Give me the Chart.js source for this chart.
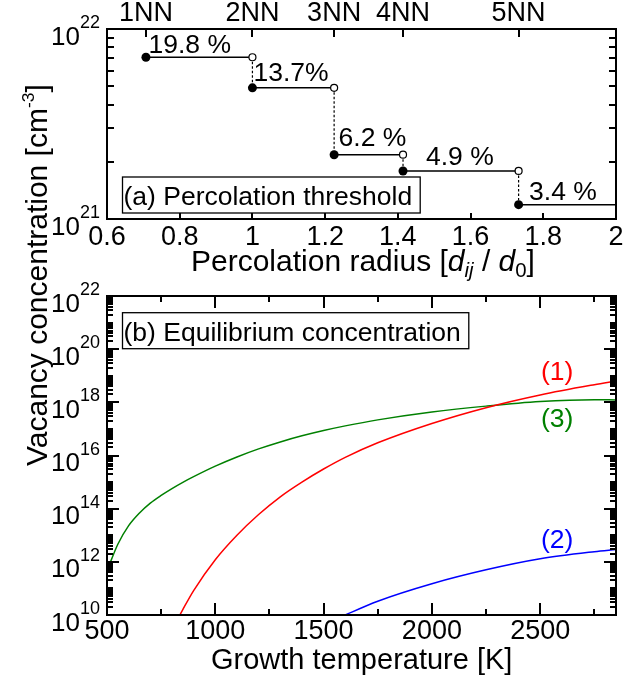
<!DOCTYPE html>
<html>
<head>
<meta charset="utf-8">
<title>Vacancy concentration</title>
<script src="https://cdn.jsdelivr.net/npm/chart.js@4.4.1/dist/chart.umd.min.js"></script>
<style>
  body { margin: 0; background: #fff; }
  #figure { position: relative; width: 637px; height: 681px; overflow: hidden;
            font-family: 'Liberation Sans', Arial, Helvetica, sans-serif; color: #000; }
  .panel { position: absolute; left: 0; }
  .title { position: absolute; font-size: 29px; line-height: 1; white-space: nowrap; }
  .sub { position: relative; top: 0.27em; font-size: 0.68em; }
  .sup { position: relative; top: -0.72em; font-size: 0.58em; }
  #yTitle { left: 21.6px; top: 466px; font-size: 30px; transform: rotate(-90deg); transform-origin: 0 0; }
  #xTitleA { left: 191px; top: 246.3px; font-size: 30px; }
  #xTitleB { left: 211px; top: 645px; }
</style>
</head>
<body>
<div id="figure">
  <canvas id="equilibrium" class="panel" width="637" height="411" style="top:270px"></canvas>
  <canvas id="percolation" class="panel" width="637" height="290" style="top:0"></canvas>
  <div class="title" id="yTitle">Vacancy concentration [cm<span class="sup">-3</span>]</div>
  <div class="title" id="xTitleA">Percolation radius [<i>d</i><span class="sub"><i>ij</i></span> / <i>d</i><span class="sub">0</span>]</div>
  <div class="title" id="xTitleB">Growth temperature [K]</div>
</div>
<script>
// (a) percolation threshold per neighbour shell
const nnLabels = ['1NN', '2NN', '3NN', '4NN', '5NN'];
const nnRadii = [0.7071, 1.0, 1.2247, 1.4142, 1.7321];
const thresholdConc = [7.1e21, 4.9e21, 2.18e21, 1.79e21, 1.19e21];
const thresholdPct = ['19.8 %', '13.7%', '6.2 %', '4.9 %', '3.4 %'];
const radiusTicks = [0.6, 0.8, 1, 1.2, 1.4, 1.6, 1.8, 2];
const radiusMin = 0.6;
const radiusMax = 2;
const concTicksA = [1e21, 1e22];

// (b) equilibrium concentration vs growth temperature
const temps = [500, 550, 600, 650, 700, 750, 800, 850, 900, 1000, 1100, 1200, 1300, 1400, 1500, 1600, 1750, 2000, 2250, 2500, 2750, 2850];
const conc1 = [null, null, null, null, null, null, 2.8e9, 1.6e10, 8.3e10, 1.2e12, 1.0e13, 6.0e13, 2.8e14, 1.0e15, 3.1e15, 8.5e15, 3.0e16, 1.6e17, 6.3e17, 1.9e18, 4.6e18, 6.3e18];
const conc2 = [null, null, null, null, null, null, null, null, null, null, null, null, null, null, 4.3e9, 1.0e10, 3.3e10, 1.5e11, 5.0e11, 1.3e12, 2.4e12, 2.9e12];
const conc3 = [4.6e11, 4.6e12, 2.3e13, 6.9e13, 1.62e14, 3.16e14, 5.7e14, 9.8e14, 1.6e15, 3.97e15, 8.8e15, 1.77e16, 3.24e16, 5.5e16, 8.7e16, 1.3e17, 2.19e17, 4.33e17, 7.2e17, 1.07e18, 1.26e18, 1.23e18];
const curveNames = ['(1)', '(2)', '(3)'];
const tempTicks = [500, 1000, 1500, 2000, 2500];
const tempMin = 500;
const tempMax = 2850;
const concTicksB = [1e10, 1e12, 1e14, 1e16, 1e18, 1e20, 1e22];

const FONT = "'Liberation Sans', Arial, Helvetica, sans-serif";

// box, inward ticks on all four sides, 10^n labels and the caption
function makeFrame(cfg) {
  return {
    id: 'frame',
    afterDraw(chart) {
      const { ctx, chartArea: a, scales } = chart;
      ctx.save();
      ctx.fillStyle = '#000';
      const hTick = (x, y, len) => ctx.fillRect(len > 0 ? x : x + len, Math.round(y) - 1, Math.abs(len), 2);
      const vTick = (x, y, len) => ctx.fillRect(Math.round(x) - 1, len > 0 ? y : y + len, 2, Math.abs(len));
      cfg.yTicks.forEach((t) => {
        const y = scales.y.getPixelForValue(t[0]);
        hTick(a.left, y, t[1]);
        hTick(a.right, y, -t[1]);
      });
      cfg.xTicks.forEach((t) => {
        const x = scales.x.getPixelForValue(t[0]);
        vTick(x, a.bottom, -t[1]);
        if (cfg.mirrorX) vTick(x, a.top, t[1]);
      });
      (cfg.topTicks || []).forEach((t) => {
        const x = scales.x2.getPixelForValue(t[0]);
        vTick(x, a.top, t[1]);
      });
      ctx.strokeStyle = '#000';
      ctx.lineWidth = 2;
      ctx.strokeRect(a.left, a.top, a.right - a.left, a.bottom - a.top);

      ctx.textAlign = 'right';
      ctx.textBaseline = 'alphabetic';
      cfg.yLabels.forEach((v) => {
        const y = scales.y.getPixelForValue(v);
        const exp = String(Math.round(Math.log10(v)));
        ctx.font = `18px ${FONT}`;
        ctx.fillText(exp, 100, y - 1);
        const w = ctx.measureText(exp).width;
        ctx.font = `26px ${FONT}`;
        ctx.fillText('10', 100 - w, y + 15.5);
      });

      ctx.font = `26.5px ${FONT}`;
      ctx.textAlign = 'left';
      const tw = ctx.measureText(cfg.caption).width;
      ctx.lineWidth = 1.3;
      ctx.strokeRect(a.left + 15.5, cfg.captionTop, tw + 9, 36);
      ctx.fillText(cfg.caption, a.left + 16.5, cfg.captionTop + 28);
      ctx.restore();
    }
  };
}

const hiddenGrid = { display: false, drawTicks: false };
const tickFont = { family: FONT, size: 27 };

// step outline: solid plateaus, dashed drops, open circle at each shell edge
const filledPts = nnRadii.map((r, i) => ({ x: r, y: thresholdConc[i] }));
const openPts = [];
const stepSolid = [];
const stepDashed = [];
nnRadii.forEach((r, i) => {
  const last = i === nnRadii.length - 1;
  const next = last ? radiusMax : nnRadii[i + 1];
  stepSolid.push({ x: r, y: thresholdConc[i] }, { x: next, y: thresholdConc[i] }, { x: next, y: null });
  if (!last) {
    openPts.push({ x: next, y: thresholdConc[i] });
    stepDashed.push({ x: next, y: thresholdConc[i] }, { x: next, y: thresholdConc[i + 1] }, { x: next, y: null });
  }
});

const pctOffsets = [[2.5, -4.6], [1, -6.6], [4.5, -8.3], [23, -5.5], [10.5, -5]];
const percentPlugin = {
  id: 'percent',
  afterDraw(chart) {
    const { ctx, scales } = chart;
    ctx.save();
    ctx.font = `26.5px ${FONT}`;
    ctx.fillStyle = '#000';
    ctx.textAlign = 'left';
    ctx.textBaseline = 'alphabetic';
    thresholdPct.forEach((txt, i) => {
      const [dx, dy] = pctOffsets[i];
      ctx.fillText(txt, scales.x.getPixelForValue(nnRadii[i]) + dx, scales.y.getPixelForValue(thresholdConc[i]) + dy);
    });
    ctx.restore();
  }
};

new Chart(document.getElementById('percolation'), {
  type: 'line',
  data: {
    datasets: [
      { data: filledPts, showLine: false, pointRadius: 4.5, pointBackgroundColor: '#000', pointBorderWidth: 0, order: 0 },
      { data: openPts, showLine: false, pointRadius: 3.5, pointBackgroundColor: '#fff', pointBorderColor: '#000', pointBorderWidth: 1.2, order: 1 },
      { data: stepSolid, borderColor: '#000', borderWidth: 1.5, pointRadius: 0, order: 2 },
      { data: stepDashed, borderColor: '#000', borderWidth: 1.2, borderDash: [2.5, 2], pointRadius: 0, order: 3 }
    ]
  },
  options: {
    responsive: false,
    animation: false,
    events: [],
    layout: { padding: { right: 21 } },
    plugins: { legend: { display: false }, tooltip: { enabled: false } },
    scales: {
      x: {
        type: 'linear', min: radiusMin, max: radiusMax,
        afterBuildTicks: (s) => { s.ticks = radiusTicks.map((value) => ({ value })); },
        afterFit: (s) => { s.height = 71; },
        grid: hiddenGrid, border: { display: false },
        ticks: { color: '#000', font: tickFont, padding: 2, maxRotation: 0, autoSkip: false, callback: (v) => String(v) }
      },
      x2: {
        type: 'linear', position: 'top', min: radiusMin, max: radiusMax,
        afterBuildTicks: (s) => { s.ticks = nnRadii.map((value) => ({ value })); },
        afterFit: (s) => { s.height = 29; },
        grid: hiddenGrid, border: { display: false },
        ticks: { color: '#000', font: tickFont, padding: -1, maxRotation: 0, autoSkip: false, callback: (v, i) => nnLabels[i] }
      },
      y: {
        type: 'logarithmic', min: concTicksA[0], max: concTicksA[1],
        afterFit: (s) => { s.width = 107; },
        grid: hiddenGrid, border: { display: false }, ticks: { display: false }
      }
    }
  },
  plugins: [
    makeFrame({
      yTicks: [2, 3, 4, 5, 6, 7, 8, 9].map((k) => [k * 1e21, 7]),
      xTicks: radiusTicks.map((v) => [v, 6]),
      topTicks: nnRadii.map((v) => [v, 8]),
      yLabels: concTicksA,
      caption: '(a) Percolation threshold',
      captionTop: 177
    }),
    percentPlugin
  ]
});

// curve tags placed beside the right end of each curve
const curveColors = ['#ff0000', '#0000ff', '#008000'];
const tagAnchors = [[2578, 1.3e19], [2578, 6.5e12], [2578, 2.3e17]];
const tagPlugin = {
  id: 'tags',
  afterDraw(chart) {
    const { ctx, scales } = chart;
    ctx.save();
    ctx.font = `26.5px ${FONT}`;
    ctx.textAlign = 'center';
    ctx.textBaseline = 'middle';
    curveNames.forEach((name, i) => {
      ctx.fillStyle = curveColors[i];
      ctx.fillText(name, scales.x.getPixelForValue(tagAnchors[i][0]), scales.y.getPixelForValue(tagAnchors[i][1]));
    });
    ctx.restore();
  }
};

const yTicksB = [];
for (let e = 10; e < 22; e++) {
  for (let k = 1; k < 10; k++) yTicksB.push([k * Math.pow(10, e), k === 1 && e % 2 === 0 ? 12 : 6]);
}
const xTicksB = [];
for (let t = tempMin + 250; t < tempMax; t += 250) xTicksB.push([t, t % 500 === 0 ? 12 : 6]);

new Chart(document.getElementById('equilibrium'), {
  type: 'line',
  data: {
    datasets: [conc1, conc2, conc3].map((series, i) => ({
      label: curveNames[i],
      data: temps.map((t, j) => ({ x: t, y: series[j] })),
      borderColor: curveColors[i],
      borderWidth: 1.5,
      pointRadius: 0,
      cubicInterpolationMode: 'monotone'
    }))
  },
  options: {
    responsive: false,
    animation: false,
    events: [],
    layout: { padding: { top: 26, right: 21 } },
    plugins: { legend: { display: false }, tooltip: { enabled: false } },
    scales: {
      x: {
        type: 'linear', min: tempMin, max: tempMax,
        afterBuildTicks: (s) => { s.ticks = tempTicks.map((value) => ({ value })); },
        afterFit: (s) => { s.height = 66; },
        grid: hiddenGrid, border: { display: false },
        ticks: { color: '#000', font: tickFont, padding: 0, maxRotation: 0, autoSkip: false, callback: (v) => String(v) }
      },
      y: {
        type: 'logarithmic', min: concTicksB[0], max: concTicksB[concTicksB.length - 1],
        afterFit: (s) => { s.width = 107; },
        grid: hiddenGrid, border: { display: false }, ticks: { display: false }
      }
    }
  },
  plugins: [
    makeFrame({
      yTicks: yTicksB,
      xTicks: xTicksB,
      mirrorX: true,
      yLabels: concTicksB,
      caption: '(b) Equilibrium concentration',
      captionTop: 42.7
    }),
    tagPlugin
  ]
});
</script>
</body>
</html>
